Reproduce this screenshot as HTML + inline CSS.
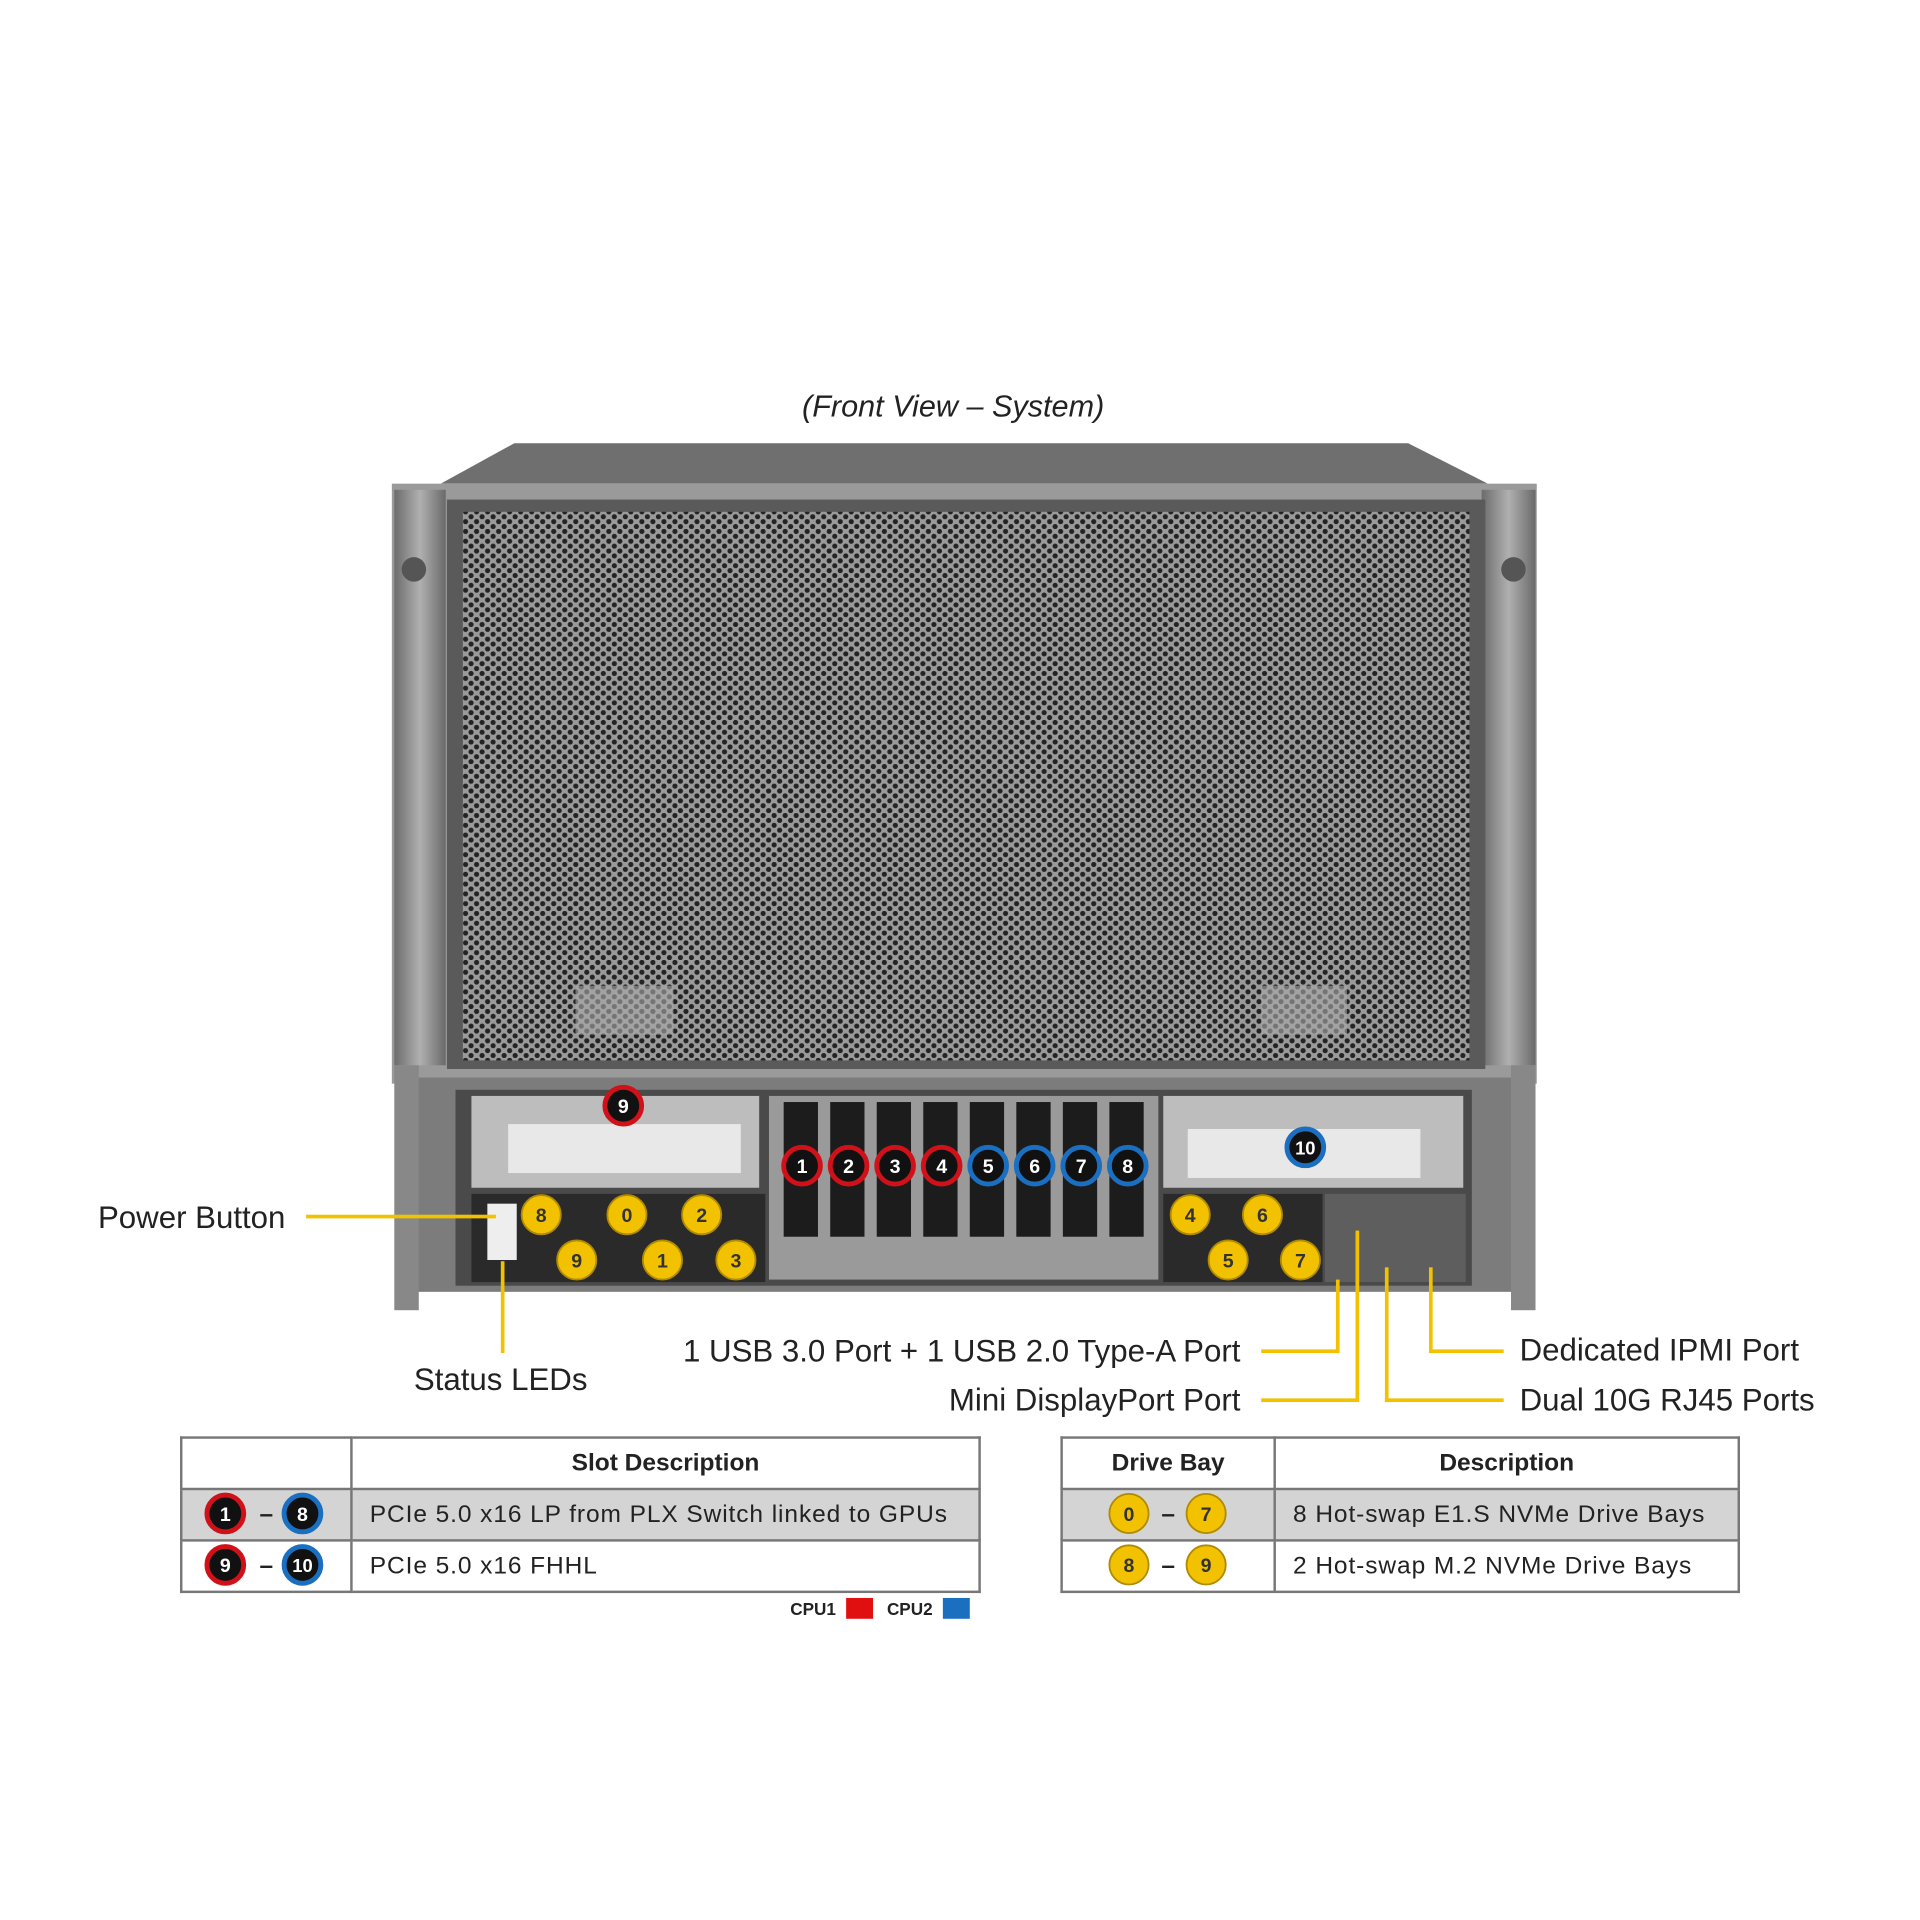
<!DOCTYPE html>
<html><head><meta charset="utf-8"><style>
html,body{margin:0;padding:0;background:#fff;width:1920px;height:1920px;overflow:hidden}
#w{position:absolute;left:0;top:0;width:1568px;height:1568px;transform:scale(1.22449);transform-origin:0 0;font-family:"Liberation Sans",sans-serif}
.a{position:absolute}
.lbl{position:absolute;font-size:25.5px;color:#222;white-space:nowrap;line-height:1}
.yl{position:absolute;background:#f2c200}
table{position:absolute;border-collapse:collapse;font-size:20px;color:#222}
td{border:2px solid #777;padding:0;height:40px}
td.t{padding-left:14px;letter-spacing:0.75px}
</style></head><body><div id="w">
<div class="lbl" style="left:655px;top:320px;font-style:italic;font-size:25px">(Front View – System)</div>
<svg class="a" style="left:0;top:0" width="1568" height="1568">
<defs>
<pattern id="hex" width="9" height="8" patternUnits="userSpaceOnUse">
<rect width="9" height="8" fill="#9a9a9a"/>
<circle cx="2.2" cy="2" r="2.1" fill="#232323"/><circle cx="6.7" cy="6" r="2.1" fill="#232323"/>
</pattern>
<linearGradient id="side" x1="0" x2="1"><stop offset="0" stop-color="#6c6c6c"/><stop offset=".5" stop-color="#b0b0b0"/><stop offset="1" stop-color="#6a6a6a"/></linearGradient>
</defs>
<polygon points="360,395 420,362 1150,362 1215,395" fill="#6f6f6f"/>
<rect x="320" y="395" width="935" height="490" fill="#9a9a9a"/>
<rect x="322" y="400" width="42" height="470" fill="url(#side)"/>
<rect x="1210" y="400" width="44" height="470" fill="url(#side)"/>
<rect x="365" y="408" width="848" height="465" fill="#5a5a5a"/>
<rect x="378" y="418" width="822" height="448" fill="url(#hex)"/>
<rect x="470" y="805" width="80" height="40" fill="#aaa" opacity=".6"/>
<rect x="1030" y="805" width="70" height="40" fill="#aaa" opacity=".6"/>
<circle cx="338" cy="465" r="10" fill="#555"/><circle cx="1236" cy="465" r="10" fill="#555"/>
<rect x="332" y="880" width="910" height="175" fill="#7c7c7c"/>
<rect x="372" y="890" width="830" height="160" fill="#4a4a4a"/>
<rect x="385" y="895" width="235" height="75" fill="#bdbdbd"/>
<rect x="415" y="918" width="190" height="40" fill="#e8e8e8"/>
<rect x="950" y="895" width="245" height="75" fill="#bdbdbd"/>
<rect x="970" y="922" width="190" height="40" fill="#e8e8e8"/>
<rect x="628" y="895" width="318" height="150" fill="#9a9a9a"/>
<g fill="#1c1c1c">
<rect x="640" y="900" width="28" height="110"/><rect x="678" y="900" width="28" height="110"/><rect x="716" y="900" width="28" height="110"/><rect x="754" y="900" width="28" height="110"/>
<rect x="792" y="900" width="28" height="110"/><rect x="830" y="900" width="28" height="110"/><rect x="868" y="900" width="28" height="110"/><rect x="906" y="900" width="28" height="110"/>
</g>
<rect x="385" y="975" width="240" height="72" fill="#2a2a2a"/>
<rect x="950" y="975" width="130" height="72" fill="#2a2a2a"/>
<rect x="1082" y="975" width="115" height="72" fill="#5e5e5e"/>
<rect x="398" y="983" width="24" height="46" fill="#eee"/>
<rect x="322" y="870" width="20" height="200" fill="#888"/><rect x="1234" y="870" width="20" height="200" fill="#888"/>
</svg>
<div class="yl" style="left:250px;top:992px;width:155px;height:3px"></div>
<div class="yl" style="left:409px;top:1030px;width:3px;height:75px"></div>
<div class="yl" style="left:1030px;top:1102px;width:63px;height:3px"></div>
<div class="yl" style="left:1091px;top:1045px;width:3px;height:60px"></div>
<div class="yl" style="left:1030px;top:1142px;width:79px;height:3px"></div>
<div class="yl" style="left:1107px;top:1005px;width:3px;height:140px"></div>
<div class="yl" style="left:1167px;top:1102px;width:61px;height:3px"></div>
<div class="yl" style="left:1167px;top:1035px;width:3px;height:70px"></div>
<div class="yl" style="left:1131px;top:1142px;width:97px;height:3px"></div>
<div class="yl" style="left:1131px;top:1035px;width:3px;height:110px"></div>
<div class="lbl" style="left:80px;top:983px">Power Button</div>
<div class="lbl" style="left:338px;top:1115px">Status LEDs</div>
<div class="lbl" style="right:555px;top:1092px">1 USB 3.0 Port + 1 USB 2.0 Type-A Port</div>
<div class="lbl" style="right:555px;top:1132px">Mini DisplayPort Port</div>
<div class="lbl" style="left:1241px;top:1091px">Dedicated IPMI Port</div>
<div class="lbl" style="left:1241px;top:1132px">Dual 10G RJ45 Ports</div>
<svg class="a" style="left:0;top:0" width="1568" height="1568" font-family="Liberation Sans" font-weight="bold" text-anchor="middle">
<g stroke-width="4">
<g fill="#111" stroke="#d0111a"><circle cx="655" cy="952" r="15"/><circle cx="693" cy="952" r="15"/><circle cx="731" cy="952" r="15"/><circle cx="769" cy="952" r="15"/><circle cx="509" cy="903" r="15"/></g>
<g fill="#111" stroke="#1a6fc0"><circle cx="807" cy="952" r="15"/><circle cx="845" cy="952" r="15"/><circle cx="883" cy="952" r="15"/><circle cx="921" cy="952" r="15"/><circle cx="1066" cy="937" r="15"/></g>
</g>
<g fill="#fff" font-size="16">
<text x="655" y="958">1</text><text x="693" y="958">2</text><text x="731" y="958">3</text><text x="769" y="958">4</text>
<text x="807" y="958">5</text><text x="845" y="958">6</text><text x="883" y="958">7</text><text x="921" y="958">8</text>
<text x="509" y="909">9</text><text x="1066" y="943" font-size="15">10</text>
</g>
<g fill="#f2c200" stroke="#b08a00" stroke-width="1.5">
<circle cx="442" cy="992" r="16"/><circle cx="471" cy="1029" r="16"/><circle cx="512" cy="992" r="16"/><circle cx="573" cy="992" r="16"/><circle cx="541" cy="1029" r="16"/><circle cx="601" cy="1029" r="16"/>
<circle cx="972" cy="992" r="16"/><circle cx="1031" cy="992" r="16"/><circle cx="1003" cy="1029" r="16"/><circle cx="1062" cy="1029" r="16"/>
</g>
<g fill="#333" font-size="16">
<text x="442" y="998">8</text><text x="471" y="1035">9</text><text x="512" y="998">0</text><text x="573" y="998">2</text><text x="541" y="1035">1</text><text x="601" y="1035">3</text>
<text x="972" y="998">4</text><text x="1031" y="998">6</text><text x="1003" y="1035">5</text><text x="1062" y="1035">7</text>
</g>
</svg>
<table style="left:147px;top:1173px;width:654px">
<tr><td style="width:137px"></td><td style="text-align:center;font-weight:bold">Slot Description</td></tr>
<tr style="background:#d4d4d4"><td style="text-align:center;font-weight:bold">–</td><td class="t">PCIe 5.0 x16 LP from PLX Switch linked to GPUs</td></tr>
<tr><td style="text-align:center;font-weight:bold">–</td><td class="t">PCIe 5.0 x16 FHHL</td></tr>
</table>
<table style="left:866px;top:1173px;width:555px">
<tr><td style="width:172px;text-align:center;font-weight:bold">Drive Bay</td><td style="text-align:center;font-weight:bold">Description</td></tr>
<tr style="background:#d4d4d4"><td style="text-align:center;font-weight:bold">–</td><td class="t">8 Hot-swap E1.S NVMe Drive Bays</td></tr>
<tr><td style="text-align:center;font-weight:bold">–</td><td class="t">2 Hot-swap M.2 NVMe Drive Bays</td></tr>
</table>
<svg class="a" style="left:0;top:0;pointer-events:none" width="1568" height="1568" font-family="Liberation Sans" font-weight="bold" text-anchor="middle">
<g stroke-width="4">
<g fill="#111" stroke="#d0111a"><circle cx="184" cy="1236" r="15"/><circle cx="184" cy="1278" r="15"/></g>
<g fill="#111" stroke="#1a6fc0"><circle cx="247" cy="1236" r="15"/><circle cx="247" cy="1278" r="15"/></g>
</g>
<g fill="#fff" font-size="16"><text x="184" y="1242">1</text><text x="247" y="1242">8</text><text x="184" y="1284">9</text><text x="247" y="1284" font-size="15">10</text></g>
<g fill="#f2c200" stroke="#b08a00" stroke-width="1.5"><circle cx="922" cy="1236" r="16"/><circle cx="985" cy="1236" r="16"/><circle cx="922" cy="1278" r="16"/><circle cx="985" cy="1278" r="16"/></g>
<g fill="#333" font-size="16"><text x="922" y="1242">0</text><text x="985" y="1242">7</text><text x="922" y="1284">8</text><text x="985" y="1284">9</text></g>
<text x="664" y="1319" font-size="14" fill="#222">CPU1</text><rect x="691" y="1305" width="22" height="17" fill="#e01010"/>
<text x="743" y="1319" font-size="14" fill="#222">CPU2</text><rect x="770" y="1305" width="22" height="17" fill="#1a6fc0"/>
</svg>
</div></body></html>
